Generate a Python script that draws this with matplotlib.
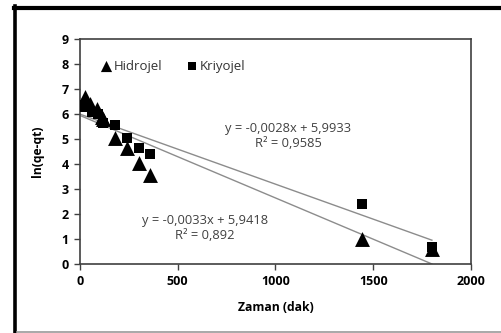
import matplotlib
matplotlib.use("Agg")
import matplotlib.pyplot as plt
from matplotlib.lines import Line2D

# Data
hid_x = [10, 25, 50, 85, 110, 120, 180, 240, 300, 360, 1440, 1800]
hid_y = [6.4, 6.7, 6.4, 6.2, 5.9, 5.8, 5.05, 4.65, 4.05, 3.55, 1.0, 0.6]
kri_x = [5, 30, 60, 90, 120, 180, 240, 300, 360, 1440, 1800]
kri_y = [6.35, 6.3, 6.1, 6.0, 5.65, 5.55, 5.05, 4.65, 4.4, 2.4, 0.7]
kri_fit = (-0.0028, 5.9933)
hid_fit = (-0.0033, 5.9418)
fit_x = [5, 1800]

plt.rcParams['font.family'] = ['Open Sans', 'DejaVu Sans']

fig = plt.figure(figsize=(5.02, 3.33), dpi=100)
W, H = 502, 333
# outer frame
fig.add_artist(Line2D([15.5/W, 15.5/W], [0, 1 - 6/H], transform=fig.transFigure, color='black', lw=2.6))
fig.add_artist(Line2D([14/W, 1.0], [1 - 8/H, 1 - 8/H], transform=fig.transFigure, color='black', lw=3.0))
fig.add_artist(Line2D([17/W, 1.0], [1.5/H, 1.5/H], transform=fig.transFigure, color='#999999', lw=1.2))

ax = fig.add_axes([80/W, 1 - 264/H, 391/W, 225/H])
ax.set_xlim(0, 2000)
ax.set_ylim(0, 9)

for a, b in (kri_fit, hid_fit):
    ax.plot(fit_x, [a * x + b for x in fit_x], color='#8c8c8c', lw=1.0, zorder=2)

ax.scatter(kri_x, kri_y, marker='s', s=58, color='black', zorder=3, label='Kriyojel', linewidths=0)
ax.scatter(hid_x, hid_y, marker='^', s=115, color='black', zorder=4, label='Hidrojel', linewidths=0)

ax.set_xticks([0, 500, 1000, 1500, 2000])
ax.set_yticks(range(0, 10))
ax.tick_params(axis='both', direction='out', length=4, width=1, color='#404040', labelsize=9, pad=4)
for lab in ax.get_xticklabels() + ax.get_yticklabels():
    lab.set_fontweight('bold')
for s in ax.spines.values():
    s.set_color('#404040')
    s.set_linewidth(1.2)

ax.set_xlabel('Zaman (dak)', fontsize=8.7, fontweight='bold', labelpad=9)
ax.set_ylabel('ln(qe-qt)', fontsize=8.7, fontweight='bold', labelpad=13)

ax.text(1064, 5.12, 'y = -0,0028x + 5,9933\nR² = 0,9585', ha='center', va='center',
        fontsize=9.3, color='#404040', linespacing=1.25)
ax.text(639, 1.44, 'y = -0,0033x + 5,9418\nR² = 0,892', ha='center', va='center',
        fontsize=9.3, color='#404040', linespacing=1.25)

h, l = ax.get_legend_handles_labels()
leg = ax.legend([h[1], h[0]], [l[1], l[0]], loc='upper left', bbox_to_anchor=(0.016, 0.96),
                ncol=2, frameon=False, fontsize=9.5, handletextpad=0.0, columnspacing=1.6,
                markerscale=0.75, handlelength=1.2)
for t in leg.get_texts():
    t.set_color('#333333')

fig.savefig('out.png', dpi=100)
